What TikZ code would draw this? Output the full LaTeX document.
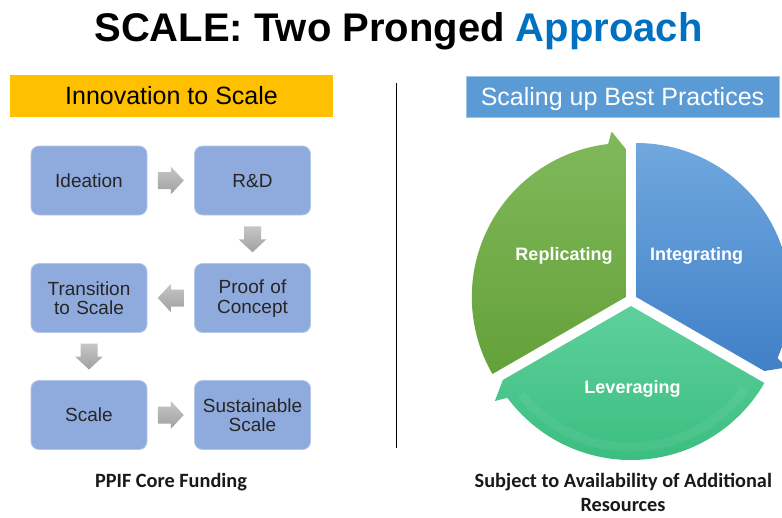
\documentclass[tikz,border=0pt]{standalone}
\usepackage{fontspec}
\setmainfont{Liberation Sans}
\newfontfamily\calfont{Carlito}
\usetikzlibrary{calc}
\definecolor{yel}{HTML}{FFC000}
\definecolor{hdrblue}{HTML}{5B9BD5}
\definecolor{titleblue}{HTML}{0070C0}
\definecolor{boxfill}{HTML}{8FAADC}
\definecolor{boxline}{HTML}{B4C7E7}
\definecolor{arrT}{HTML}{C6C6C6}
\definecolor{arrB}{HTML}{A0A0A0}
\definecolor{grnT}{HTML}{80B95B}
\definecolor{grnB}{HTML}{64A139}
\definecolor{bluT}{HTML}{70A8DE}
\definecolor{bluB}{HTML}{4080C8}
\definecolor{tealT}{HTML}{5ED09C}
\definecolor{tealB}{HTML}{3BBE80}
\begin{document}
\begin{tikzpicture}[x=1pt,y=1pt,
  stepbox/.style={draw=boxline, line width=0.8pt, fill=boxfill, rounded corners=8pt,
    minimum width=116pt, minimum height=69pt, text width=112pt, align=center, inner sep=0pt,
    font=\fontsize{19}{19.6}\selectfont, text=black!85,
    execute at begin node={\rule{0pt}{15pt}}, execute at end node={\rule[-1.4pt]{0pt}{0pt}}},
  garrow/.style={top color=arrT, bottom color=arrB, draw=none},
  hdr/.style={minimum height=42pt, inner sep=0pt, font=\fontsize{25}{25}\selectfont,
    text height=18pt, text depth=2pt},
  cyclab/.style={font=\fontsize{18}{18}\selectfont\bfseries, text=white, inner sep=0pt, anchor=base},
  caption/.style={font=\calfont\fontsize{20.3}{24}\selectfont\bfseries, text=black!90, inner sep=0pt, anchor=base}
]
\useasboundingbox (0,0) rectangle (782,-517);
\fill[white] (0,0) rectangle (782,-517);

% title
\node[anchor=base, inner sep=0pt, font=\fontsize{40}{40}\selectfont\bfseries] (title) at (398.5,-41)
  {SCALE: Two Pronged \textcolor{titleblue}{Approach}};

% headers
\node[hdr, fill=yel, minimum width=323pt] (hdrL) at (171.5,-96) {Innovation to Scale};
\node[hdr, fill=hdrblue, draw=hdrblue!60!white, line width=0.8pt, minimum width=313pt, minimum height=41pt,
  text=white, text height=19pt, text depth=1pt] (hdrR) at (622.5,-96.5) {Scaling up Best Practices};

% divider
\coordinate (divtop) at (396,-83);
\coordinate (divbot) at (396,-448);
\draw[black, line width=1pt] (divtop) -- (divbot);

% step boxes
\node[stepbox] (idea)  at (89,-180.5)   {Ideation};
\node[stepbox] (rd)    at (252.5,-180.5) {R\&D};
\node[stepbox] (proof) at (252.5,-298)  {Proof of\\Concept};
\node[stepbox] (trans) at (89,-298)     {Transition\\to Scale};
\node[stepbox] (scale) at (89,-415)     {Scale};
\node[stepbox] (sust)  at (252.5,-415)  {Sustainable\\Scale};

% gray block arrows between boxes
\coordinate (m1) at ($(idea.east)!0.5!(rd.west)$);
\coordinate (m2) at ($(rd.south)!0.5!(proof.north)$);
\coordinate (m3) at ($(proof.west)!0.5!(trans.east)$);
\coordinate (m4) at ($(trans.south)!0.5!(scale.north)$);
\coordinate (m5) at ($(scale.east)!0.5!(sust.west)$);
\foreach \m/\r in {m1/0, m2/-90, m3/180, m4/-90, m5/0}{
  \shade[garrow, shift={(\m)}, rotate=\r]
    (-13,-8.5) -- (0,-8.5) -- (0,-14) -- (13,0) -- (0,14) -- (0,8.5) -- (-13,8.5) -- cycle;
}

% captions
\node[caption] (capL) at (171,-487) {PPIF Core Funding};
\node[caption] (capR1) at (623.3,-487.3) {Subject to Availability of Additional};
\node[caption] (capR2) at (623,-511) {Resources};

% cycle pieces
\begin{scope}
\clip (0,0) rectangle (782,-517);
\begin{scope}[shift={(625.8,-297)}]
  \shade[top color=grnT, bottom color=grnB] (210:154) arc[start angle=210, end angle=96.6, radius=154]
    -- (94.9:166) -- (90:148) -- (0,0) -- cycle;
\end{scope}
\begin{scope}[shift={(636.2,-297)}]
  \shade[top color=bluT, bottom color=bluB] (90:154) arc[start angle=90, end angle=-23.4, radius=154]
    -- (-25.1:166) -- (-30:148) -- (0,0) -- cycle;
\end{scope}
\begin{scope}[shift={(631,-306)}]
  \shade[top color=tealT, bottom color=tealB] (-30:154) arc[start angle=-30, end angle=-143.4, radius=154]
    -- (-145.1:166) -- (-150:148) -- (0,0) -- cycle;
  \draw[white, opacity=0.06, line width=9pt] (-36:141) arc[start angle=-36, end angle=-141, radius=141];
\end{scope}
\end{scope}

\node[cyclab] (repl) at (564,-260) {Replicating};
\node[cyclab] (integ) at (696.5,-260) {Integrating};
\node[cyclab] (lever) at (632.5,-393) {Leveraging};
\end{tikzpicture}
\end{document}
